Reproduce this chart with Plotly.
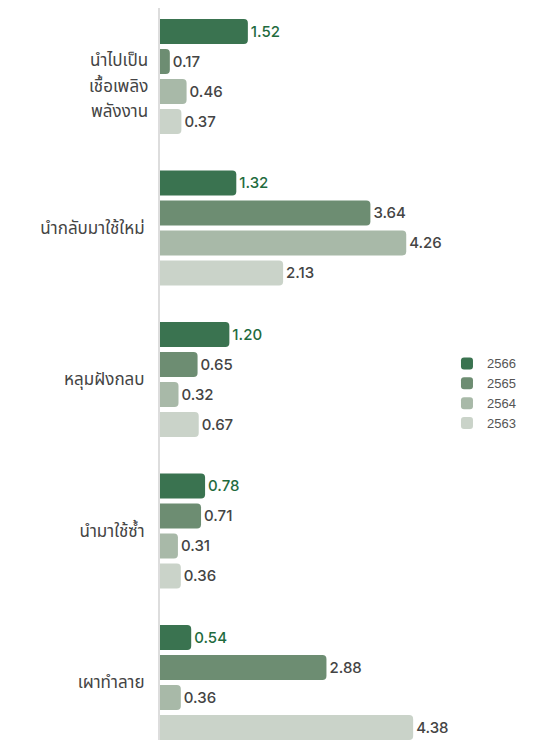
import plotly.graph_objects as go

categories = ["นำไปเป็น<br>เชื้อเพลิง<br>พลังงาน", "นำกลับมาใช้ใหม่", "หลุมฝังกลบ", "นำมาใช้ซ้ำ", "เผาทำลาย"]
series_names = ["2566", "2565", "2564", "2563"]
v2566 = [1.52, 1.32, 1.20, 0.78, 0.54]
v2565 = [0.17, 3.64, 0.65, 0.71, 2.88]
v2564 = [0.46, 4.26, 0.32, 0.31, 0.36]
v2563 = [0.37, 2.13, 0.67, 0.36, 4.38]

values = [v2566, v2565, v2564, v2563]
colors = ["#3a7350", "#6d8d72", "#a8b9a8", "#cad3c9"]
text_colors = ["#1f6b3e", "#444444", "#444444", "#444444"]

fig = go.Figure()
for name, vals, c, tc in zip(series_names, values, colors, text_colors):
    fig.add_trace(go.Bar(
        y=categories, x=vals, name=name, orientation="h",
        marker=dict(color=c, cornerradius=4, line=dict(width=0)),
        text=[f"{v:.2f}" for v in vals], textposition="outside",
        textfont=dict(color=tc, size=15, family="Inter, Liberation Sans, Arial, sans-serif", weight=500),
        cliponaxis=False,
    ))

label_font = dict(size=17, color="#444444", family="Noto Sans Thai, Noto Sans, sans-serif")

# multi-line labels get wider line spacing via separate annotations
ticktext = []
line_shifts = [15, -11, -36]
for cat in categories:
    parts = cat.split("<br>")
    if len(parts) > 1:
        ticktext.append("")
        for part, ys in zip(parts, line_shifts):
            fig.add_annotation(x=0, xref="paper", y=cat, yref="y", text=part,
                               xanchor="right", yanchor="middle", xshift=-10, yshift=ys,
                               showarrow=False, font=label_font)
    else:
        ticktext.append(cat)

fig.update_layout(
    width=534, height=732,
    margin=dict(l=152, r=93, t=0, b=0, autoexpand=False),
    paper_bgcolor="white", plot_bgcolor="white",
    barmode="group", bargap=0.208, bargroupgap=0.17,
    showlegend=True,
    legend=dict(x=0.993, xanchor="left", y=0.4734, yanchor="middle",
                font=dict(size=13, color="#555555", family="Liberation Sans, Arial, sans-serif"),
                tracegroupgap=0, itemsizing="constant"),
    xaxis=dict(range=[0, 5], visible=False, showgrid=False, zeroline=False, automargin=False),
    yaxis=dict(range=[4.3797, -0.4521], showline=True, linecolor="#dddddd", linewidth=2,
               showgrid=False, zeroline=False, ticks="", ticklabelstandoff=10, automargin=False,
               tickmode="array", tickvals=categories, ticktext=ticktext,
               tickfont=label_font),
    font=dict(family="Noto Sans, sans-serif"),
)

fig.write_html("out.html")
